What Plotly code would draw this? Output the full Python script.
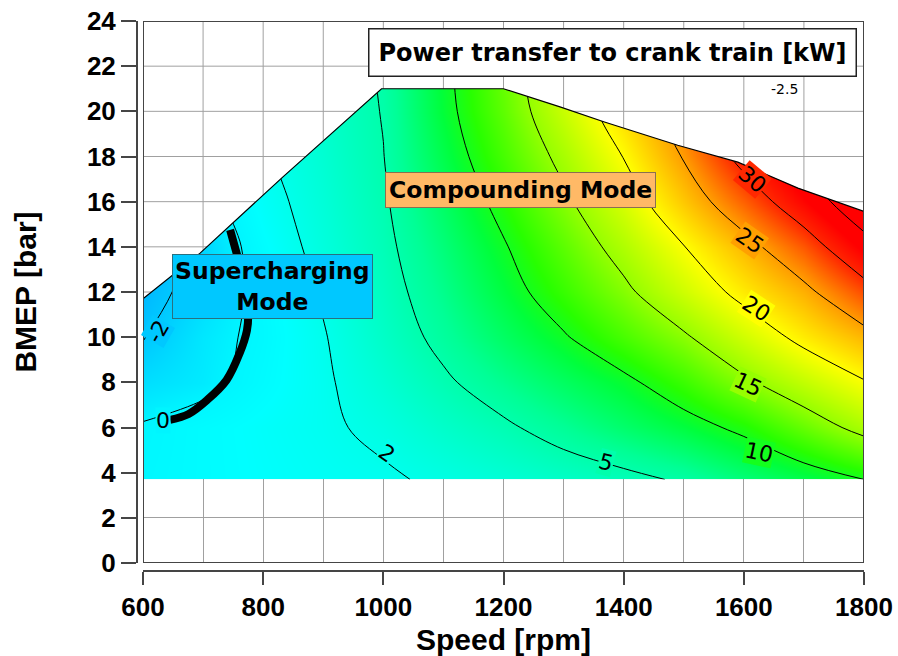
import numpy as np
import plotly.graph_objects as go
import plotly.colors as pc

# ---------------- data ----------------
speed = [600, 700, 800, 900, 1000, 1100, 1200, 1300, 1400, 1500, 1600, 1700, 1800]   # rpm
bmep = [3.7, 6, 8, 10, 12, 14, 16, 18, 20, 22]                                        # bar

# power transfer to crank train [kW] (rows = bmep, cols = speed)
power = [
    [0.3, 0.7, 1.1, 1.45, 1.72, 2.35, 3.0, 3.7, 4.35, 5.3, 6.97, 8.48, 10.0],
    [0.15, 0.7, 1.2, 1.68, 2.45, 3.58, 4.63, 5.95, 7.42, 8.89, 10.63, 13.26, 16.0],
    [-1.0, -0.45, 0.65, 1.72, 3.12, 4.64, 6.2, 7.78, 9.37, 11.67, 14.44, 17.1, 19.76],
    [-2.1, -0.6, 0.43, 1.87, 3.7, 5.62, 7.69, 9.75, 12.15, 14.59, 17.75, 20.93, 23.8],
    [-2.8, -1.15, 0.5, 2.2, 4.1, 6.32, 8.86, 11.54, 14.33, 17.66, 21.0, 24.1, 28.5],
    [-3.5, -1.4, 0.8, 2.65, 4.44, 6.94, 9.75, 12.88, 16.2, 19.9, 23.7, 28.0, 33.5],
    [-4.0, -0.8, 1.3, 2.93, 4.71, 7.66, 10.9, 14.4, 18.15, 22.86, 27.6, 32.6, 38.0],
    [-4.0, -1.0, 1.7, 3.2, 4.95, 8.46, 12.1, 15.85, 20.1, 25.25, 31.3, 36.0, 40.0],
    [-6.0, -2.0, 1.5, 3.5, 5.1, 9.1, 13.0, 17.4, 22.0, 27.0, 33.0, 38.0, 42.0],
    [-8.0, -3.0, 1.2, 3.3, 5.3, 9.3, 13.5, 18.0, 23.0, 28.0, 34.0, 39.0, 43.0],
]

# upper limit of the operating map (full load line)
bnd_speed = [600, 695, 833, 950, 997, 1200, 1294, 1368, 1490, 1590, 1690, 1800]
bnd_bmep = [11.7, 13.72, 17.1, 19.9, 21.0, 21.0, 20.2, 19.53, 18.5, 17.75, 16.6, 15.57]

# zero power transfer line (supercharging / compounding border)
zero_speed = [645, 676, 706, 739, 761, 773, 775, 768, 756, 745]
zero_bmep = [6.34, 6.6, 7.2, 8.1, 9.3, 10.3, 11.0, 12.5, 13.7, 14.75]

low_levels = [-2, 0, 2]
high_levels = [5, 10, 15, 20, 25, 30, 35]

# contour label positions (speed, bmep, angle)
lab_level = [30, 25, 20, 15, 10, 5, 2, 0, -2]
lab_speed = [1614, 1610, 1620, 1607, 1625, 1371, 1006, 633, 625]
lab_bmep = [16.96, 14.3, 11.25, 7.9, 4.9, 4.47, 4.87, 6.33, 10.25]
lab_angle = [40, 35, 33, 25, 12, 15, 35, 0, -60]

x_ticks = [600, 800, 1000, 1200, 1400, 1600, 1800]
y_ticks = list(range(0, 25, 2))

# ---------------- styling ----------------
ZMIN, ZMAX = -4, 36
stops = [(-4, (0, 160, 255)), (-2, (0, 200, 255)), (0, (0, 245, 255)), (1, (0, 255, 255)),
         (3, (0, 255, 215)), (6, (0, 255, 150)), (9, (0, 255, 60)), (11, (40, 255, 0)),
         (15, (150, 255, 0)), (20, (255, 255, 0)), (25, (255, 160, 0)), (30, (255, 40, 0)),
         (33, (255, 0, 0)), (36, (255, 0, 0))]
cscale = [[(v - ZMIN) / (ZMAX - ZMIN), "rgb(%d,%d,%d)" % c] for v, c in stops]

GRID = "#a0a0a0"
AX = "#454545"
BOLD = "Liberation Sans"
VER = "DejaVu Sans"

fig = go.Figure()

fig.add_trace(go.Contour(
    x=speed, y=bmep, z=power, zmin=ZMIN, zmax=ZMAX, colorscale=cscale, showscale=False,
    contours=dict(coloring="heatmap", start=high_levels[0], end=high_levels[-1],
                  size=high_levels[1] - high_levels[0], showlines=True, showlabels=False),
    line=dict(color="black", width=1), hoverinfo="skip"))

fig.add_trace(go.Contour(
    x=speed, y=bmep, z=power, showscale=False,
    contours=dict(coloring="none", start=low_levels[0], end=low_levels[-1],
                  size=low_levels[1] - low_levels[0], showlines=True, showlabels=False),
    line=dict(color="black", width=1), hoverinfo="skip"))

# white area above the full load line
fig.add_trace(go.Scatter(
    x=bnd_speed + [1800, 600], y=bnd_bmep + [24, 24], mode="lines", fill="toself",
    fillcolor="white", line=dict(width=0), hoverinfo="skip"))

# grid lines in the white area (computed from the boundary)
bx = np.array(bnd_speed, float)
by = np.array(bnd_bmep, float)
ipk = int(np.argmax(by))
rise_x, rise_y = bx[:ipk + 1], by[:ipk + 1]
fall_x, fall_y = bx[ipk + 1:], by[ipk + 1:]
gx, gy = [], []
for xg in range(700, 1800, 100):
    yb = float(np.interp(xg, bx, by))
    gx += [xg, xg, None]
    gy += [yb, 24, None]
for yg in range(2, 24, 2):
    if yg >= by.max():
        gx += [600, 1800, None]
        gy += [yg, yg, None]
        continue
    if yg > by[0]:
        xl = float(np.interp(yg, rise_y, rise_x))
        gx += [600, xl, None]
        gy += [yg, yg, None]
    if yg > by[-1]:
        xr = float(np.interp(yg, fall_y[::-1], fall_x[::-1]))
        gx += [xr, 1800, None]
        gy += [yg, yg, None]
fig.add_trace(go.Scatter(x=gx, y=gy, mode="lines", line=dict(color=GRID, width=1),
                         hoverinfo="skip"))

# boundary line
fig.add_trace(go.Scatter(x=bnd_speed, y=bnd_bmep, mode="lines",
                         line=dict(color="black", width=1.2), hoverinfo="skip"))

# thick zero line
fig.add_trace(go.Scatter(x=zero_speed, y=zero_bmep, mode="lines",
                         line=dict(color="black", width=8, shape="spline"), hoverinfo="skip"))

# contour labels
for lv, sx, sy, ang in zip(lab_level, lab_speed, lab_bmep, lab_angle):
    bg = pc.sample_colorscale(cscale, [(lv - ZMIN) / (ZMAX - ZMIN)])[0]
    fig.add_annotation(x=sx, y=sy, text=str(lv), showarrow=False, textangle=ang,
                       font=dict(family=VER, size=22, color="black"),
                       bgcolor=bg, borderpad=0)

# text boxes
fig.add_annotation(x=1380.6, y=22.6, text="Power transfer to crank train [kW]", showarrow=False,
                   font=dict(family=VER, size=24, color="black", weight="bold"),
                   bgcolor="white", bordercolor="#222222", borderwidth=1.5, borderpad=9)
fig.add_annotation(x=1228, y=16.52, text="Compounding Mode", showarrow=False,
                   font=dict(family=VER, size=23.5, color="black", weight="bold"),
                   bgcolor="#FFB966", bordercolor="#8a7050", borderwidth=1, borderpad=3)
fig.add_annotation(x=814.7, y=12.25, text="Supercharging<br>Mode", showarrow=False,
                   font=dict(family=VER, size=23.5, color="black", weight="bold"),
                   bgcolor="#00C8FF", bordercolor="#2a7080", borderwidth=1, borderpad=2)
fig.add_annotation(x=1668, y=21.0, text="-2.5", showarrow=False,
                   font=dict(family=VER, size=14, color="black"))

# plot frame
fig.add_shape(type="rect", xref="x", yref="y", x0=600, x1=1800, y0=0, y1=24,
              line=dict(color=AX, width=2), layer="above")

fig.update_layout(
    width=898, height=656, margin=dict(l=137, r=34, t=21, b=85, autoexpand=False),
    plot_bgcolor="white", paper_bgcolor="white", showlegend=False,
    xaxis=dict(domain=[6 / 727, 1], anchor="free", position=0, range=[600, 1800],
               automargin=False,
               tickmode="array", tickvals=x_ticks, ticks="outside", ticklen=13, tickwidth=1.5,
               tickcolor=AX, showline=True, linecolor=AX, linewidth=2, zeroline=False,
               showgrid=True, gridcolor=GRID, gridwidth=1,
               minor=dict(dtick=100, tick0=600, showgrid=True, gridcolor=GRID, gridwidth=1),
               tickfont=dict(family=BOLD, size=26, color="black", weight="bold"),
               title=dict(text="Speed [rpm]", standoff=8,
                          font=dict(family=BOLD, size=30, color="black", weight="bold"))),
    yaxis=dict(domain=[8 / 550, 1], anchor="free", position=0, range=[0, 24],
               automargin=False,
               tickmode="array", tickvals=y_ticks, ticks="outside", ticklen=15, tickwidth=1.5,
               tickcolor=AX, showline=True, linecolor=AX, linewidth=2, zeroline=False,
               showgrid=True, gridcolor=GRID, gridwidth=1,
               tickfont=dict(family=BOLD, size=26, color="black", weight="bold"),
               title=dict(text="BMEP [bar]", standoff=40,
                          font=dict(family=BOLD, size=30, color="black", weight="bold"))),
)

fig.write_html("out.html")
